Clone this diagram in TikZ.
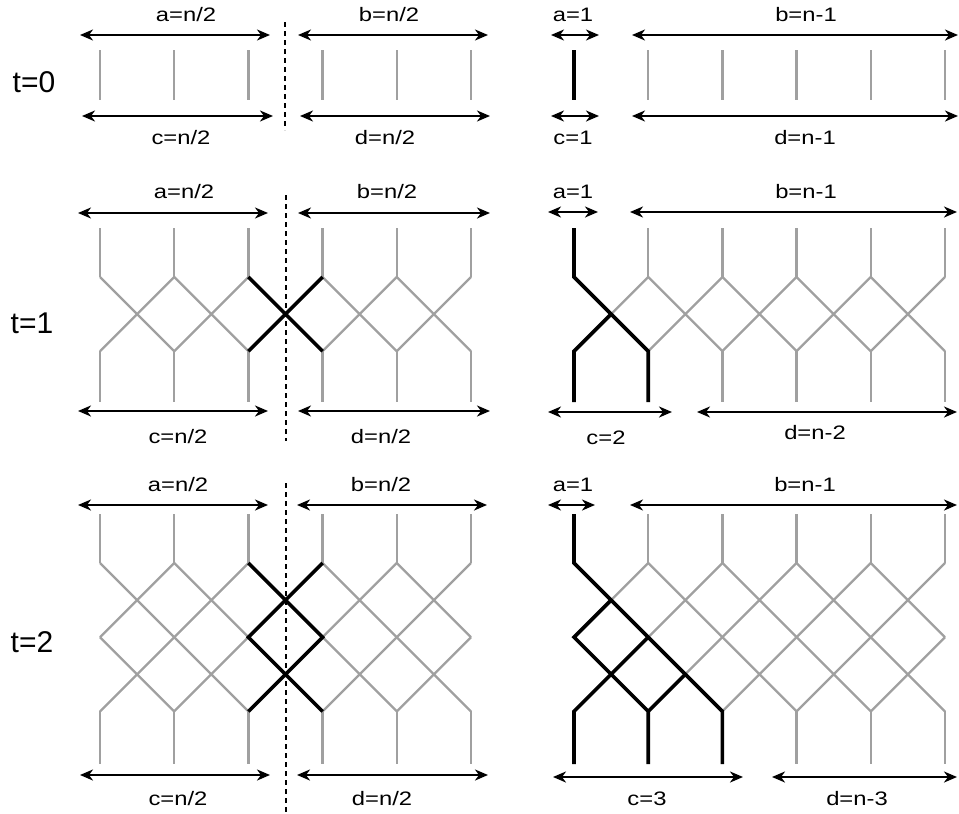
\documentclass[tikz,border=0pt]{standalone}
\usepackage{fontspec}
\setmainfont{Liberation Sans}
\usetikzlibrary{arrows.meta,calc}
\definecolor{wiregray}{RGB}{160,160,160}
\tikzset{
    wire/.style={draw=wiregray, line width=2.3pt},
    hot/.style={draw=black, line width=3.6pt},
    span/.style={draw=black, line width=2.4pt,
    	{Stealth[length=13pt,width=11pt,inset=4pt]}-{Stealth[length=13pt,width=11pt,inset=4pt]}}
}
\tikzset{
    cut/.style={draw=black, line width=2.7pt, dash pattern=on 5pt off 4pt},
    lbl/.style={inner sep=0pt, xscale=1.22, font=\fontsize{19.5}{22}\selectfont},
    tlbl/.style={inner sep=0pt, font=\fontsize{30}{34}\selectfont}
}

\begin{document}
\begin{tikzpicture}[x=1pt, y=-1pt]
	\useasboundingbox (0,0) rectangle (959,814);

	\foreach \s/\x in {l/100, r/574}
	\foreach \i in {1,...,6} {
		\coordinate (\s0-\i-t) at ({\x+74.2*(\i-1)}, 50);
		\coordinate (\s0-\i-b) at ({\x+74.2*(\i-1)}, 100);
		\coordinate (\s1-\i-t) at ({\x+74.2*(\i-1)}, 228);
		\coordinate (\s1-\i-k1) at ({\x+74.2*(\i-1)}, 277);
		\coordinate (\s1-\i-k2) at ({\x+74.2*(\i-1)}, 351.2);
		\coordinate (\s1-\i-b) at ({\x+74.2*(\i-1)}, 402);
		\coordinate (\s2-\i-t) at ({\x+74.2*(\i-1)}, 514);
		\coordinate (\s2-\i-k1) at ({\x+74.2*(\i-1)}, 563);
		\coordinate (\s2-\i-k2) at ({\x+74.2*(\i-1)}, 637.2);
		\coordinate (\s2-\i-k3) at ({\x+74.2*(\i-1)}, 711.4);
		\coordinate (\s2-\i-b) at ({\x+74.2*(\i-1)}, 764);
	}

	\foreach \s in {l,r} {
		\foreach \i in {1,...,6} {
			\draw[wire] (\s0-\i-t) -- (\s0-\i-b);
			\draw[wire] (\s1-\i-t) -- (\s1-\i-k1) (\s1-\i-k2) -- (\s1-\i-b);
			\draw[wire] (\s2-\i-t) -- (\s2-\i-k1) (\s2-\i-k3) -- (\s2-\i-b);
		}
		\foreach \i/\j in {1/2,2/3,3/4,4/5,5/6} {
			\draw[wire] (\s1-\i-k1) -- (\s1-\j-k2) (\s1-\j-k1) -- (\s1-\i-k2);
			\draw[wire] (\s2-\i-k1) -- (\s2-\j-k2) (\s2-\j-k1) -- (\s2-\i-k2);
			\draw[wire] (\s2-\i-k2) -- (\s2-\j-k3) (\s2-\j-k2) -- (\s2-\i-k3);
		}
	}

	\draw[hot] (r0-1-t) -- (r0-1-b);
	\draw[hot] (l1-3-k1) -- (l1-4-k2) (l1-4-k1) -- (l1-3-k2);
	\draw[hot] (r1-1-t) -- (r1-1-k1) -- (r1-2-k2) -- (r1-2-b);
	\draw[hot] (r1-1-b) -- (r1-1-k2) -- ($(r1-1-k2)!.5!(r1-2-k1)$);
	\draw[hot] (l2-3-k1) -- (l2-4-k2) -- (l2-3-k3) (l2-4-k1) -- (l2-3-k2) -- (l2-4-k3);
	\draw[hot] (r2-1-t) -- (r2-1-k1) -- (r2-2-k2) -- (r2-3-k3) -- (r2-3-b);
	\draw[hot] ($(r2-1-k2)!.5!(r2-2-k1)$) -- (r2-1-k2) -- (r2-2-k3) -- (r2-2-b);
	\draw[hot] (r2-1-b) -- (r2-1-k3) -- (r2-2-k2);
	\draw[hot] (r2-2-k3) -- ($(r2-2-k3)!.5!(r2-3-k2)$);

	\coordinate (cut0-n) at (285,22); \coordinate (cut0-s) at (285,130);
	\coordinate (cut1-n) at (286,195); \coordinate (cut1-s) at (286,441);
	\coordinate (cut2-n) at (286,483); \coordinate (cut2-s) at (286,814);
	\draw[cut] (cut0-n) -- (cut0-s); \draw[cut] (cut1-n) -- (cut1-s);
	\draw[cut] (cut2-n) -- (cut2-s);

	\foreach \n/\xa/\xb/\y in {
		a0l/80/270/35, b0l/298/488/35, c0l/82/273/116, d0l/300/490/116,
		a0r/551/599/35, b0r/632/958/35, c0r/551/599/116, d0r/632/958/116,
		a1l/78/268/213, b1l/298/490/213, c1l/78/268/411, d1l/298/490/411,
		a1r/548/598/212, b1r/630/957/212, c1r/548/672/412, d1r/697/957/412,
		a2l/78/268/505, b2l/297/487/505, c2l/80/270/775, d2l/297/488/775,
		a2r/548/595/505, b2r/630/957/505, c2r/553/743/777, d2r/772/957/777} {
		\coordinate (\n-w) at (\xa,\y);
		\coordinate (\n-e) at (\xb,\y);
		\draw[span] (\n-w) -- (\n-e);
	}

	\node[tlbl] (t0) at (34,82) {t=0};
	\node[tlbl] (t1) at (32,323) {t=1};
	\node[tlbl] (t2) at (32,642) {t=2};

	\node[lbl] (a0l) at (186,15) {a=n/2};
	\node[lbl] (b0l) at (389,15) {b=n/2};
	\node[lbl] (c0l) at (181,138) {c=n/2};
	\node[lbl] (d0l) at (385,138) {d=n/2};
	\node[lbl] (a0r) at (573,15) {a=1};
	\node[lbl] (b0r) at (806,15) {b=n-1};
	\node[lbl] (c0r) at (573,138) {c=1};
	\node[lbl] (d0r) at (805,138) {d=n-1};

	\node[lbl] (a1l) at (184,192) {a=n/2};
	\node[lbl] (b1l) at (387,192) {b=n/2};
	\node[lbl] (c1l) at (178,437) {c=n/2};
	\node[lbl] (d1l) at (381,437) {d=n/2};
	\node[lbl] (a1r) at (573,192) {a=1};
	\node[lbl] (b1r) at (806,192) {b=n-1};
	\node[lbl] (c1r) at (606,438) {c=2};
	\node[lbl] (d1r) at (815,433) {d=n-2};

	\node[lbl] (a2l) at (178,485) {a=n/2};
	\node[lbl] (b2l) at (381,485) {b=n/2};
	\node[lbl] (c2l) at (178,799) {c=n/2};
	\node[lbl] (d2l) at (382,799) {d=n/2};
	\node[lbl] (a2r) at (573,485) {a=1};
	\node[lbl] (b2r) at (805,485) {b=n-1};
	\node[lbl] (c2r) at (647,799) {c=3};
	\node[lbl] (d2r) at (857,799) {d=n-3};
\end{tikzpicture}
\end{document}
